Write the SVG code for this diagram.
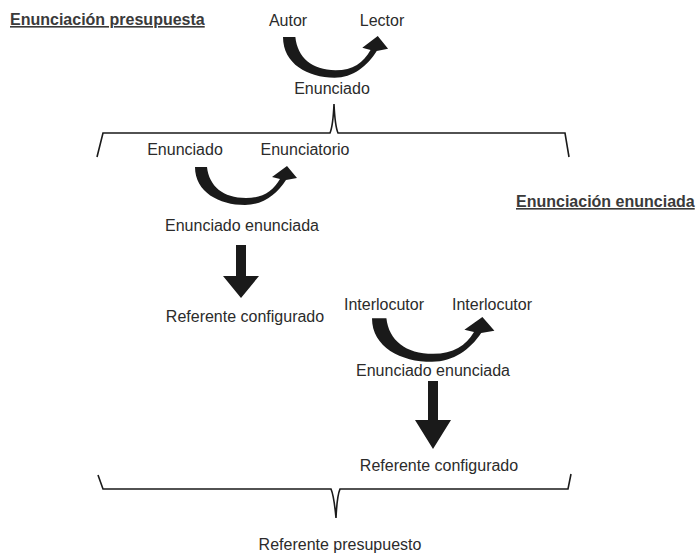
<svg xmlns="http://www.w3.org/2000/svg" xmlns:xlink="http://www.w3.org/1999/xlink" width="696" height="555" viewBox="0 0 696 555">
<style>
text{font-family:"Liberation Sans",Arial,Helvetica,sans-serif;font-size:16px;fill:#2b2b2b}
.t{text-anchor:middle}
.h{font-weight:bold;fill:#3a3a3a;text-decoration:underline}
.br{fill:none;stroke:#1a1a1a;stroke-width:1.6;stroke-linejoin:miter}
.ar{fill:#1a1a1a;stroke:none}
</style>
<defs>
<path id="curve" d="M0,1 C0,26 24,39 50,39 C68,39 82,28 91,14 L102,12 L92,0 L77,11 L85,13 C78,25 68,32 51,32 C28,32 14,20 12,1 Z"/>
</defs>
<rect width="696" height="555" fill="#ffffff"/>
<g id="connectors">
<use href="#curve" class="ar" transform="translate(283,36) scale(1.03,1.07)"/>
<use href="#curve" class="ar" transform="translate(195,166)"/>
<use href="#curve" class="ar" transform="translate(372,317) scale(1.2,1.15)"/>
<path class="ar" d="M236,245 L246,245 L246,276 L259,276 L241,298 L223,276 L236,276 Z"/>
<path class="ar" d="M428,381 L438,381 L438,420 L451,420 L433,449 L415,420 L428,420 Z"/>
<path class="br" d="M97,157 L103,133 L330,133 Q333,126 334,104 Q335,126 338,133 L565,133 L569,157"/>
<path class="br" d="M98,475 L103,489 L331,489 Q334,496 336,518 Q337,496 340,489 L568,489 L571,474"/>
</g>
<g id="title-presupuesta"><text class="h" x="10" y="25">Enunciación presupuesta</text></g>
<g id="title-enunciada"><text class="h" x="516" y="207">Enunciación enunciada</text></g>
<g id="autor"><text class="t" x="288" y="26">Autor</text></g>
<g id="lector"><text class="t" x="382" y="26">Lector</text></g>
<g id="enunciado-top"><text class="t" x="332" y="94">Enunciado</text></g>
<g id="enunciado"><text class="t" x="185" y="155">Enunciado</text></g>
<g id="enunciatorio"><text class="t" x="305" y="155">Enunciatorio</text></g>
<g id="enunciado-enunciada-1"><text class="t" x="242" y="231">Enunciado enunciada</text></g>
<g id="referente-configurado-1"><text class="t" x="245" y="322">Referente configurado</text></g>
<g id="interlocutor-1"><text class="t" x="384" y="310">Interlocutor</text></g>
<g id="interlocutor-2"><text class="t" x="492" y="310">Interlocutor</text></g>
<g id="enunciado-enunciada-2"><text class="t" x="433" y="376">Enunciado enunciada</text></g>
<g id="referente-configurado-2"><text class="t" x="439" y="471">Referente configurado</text></g>
<g id="referente-presupuesto"><text class="t" x="340" y="550">Referente presupuesto</text></g>
</svg>
